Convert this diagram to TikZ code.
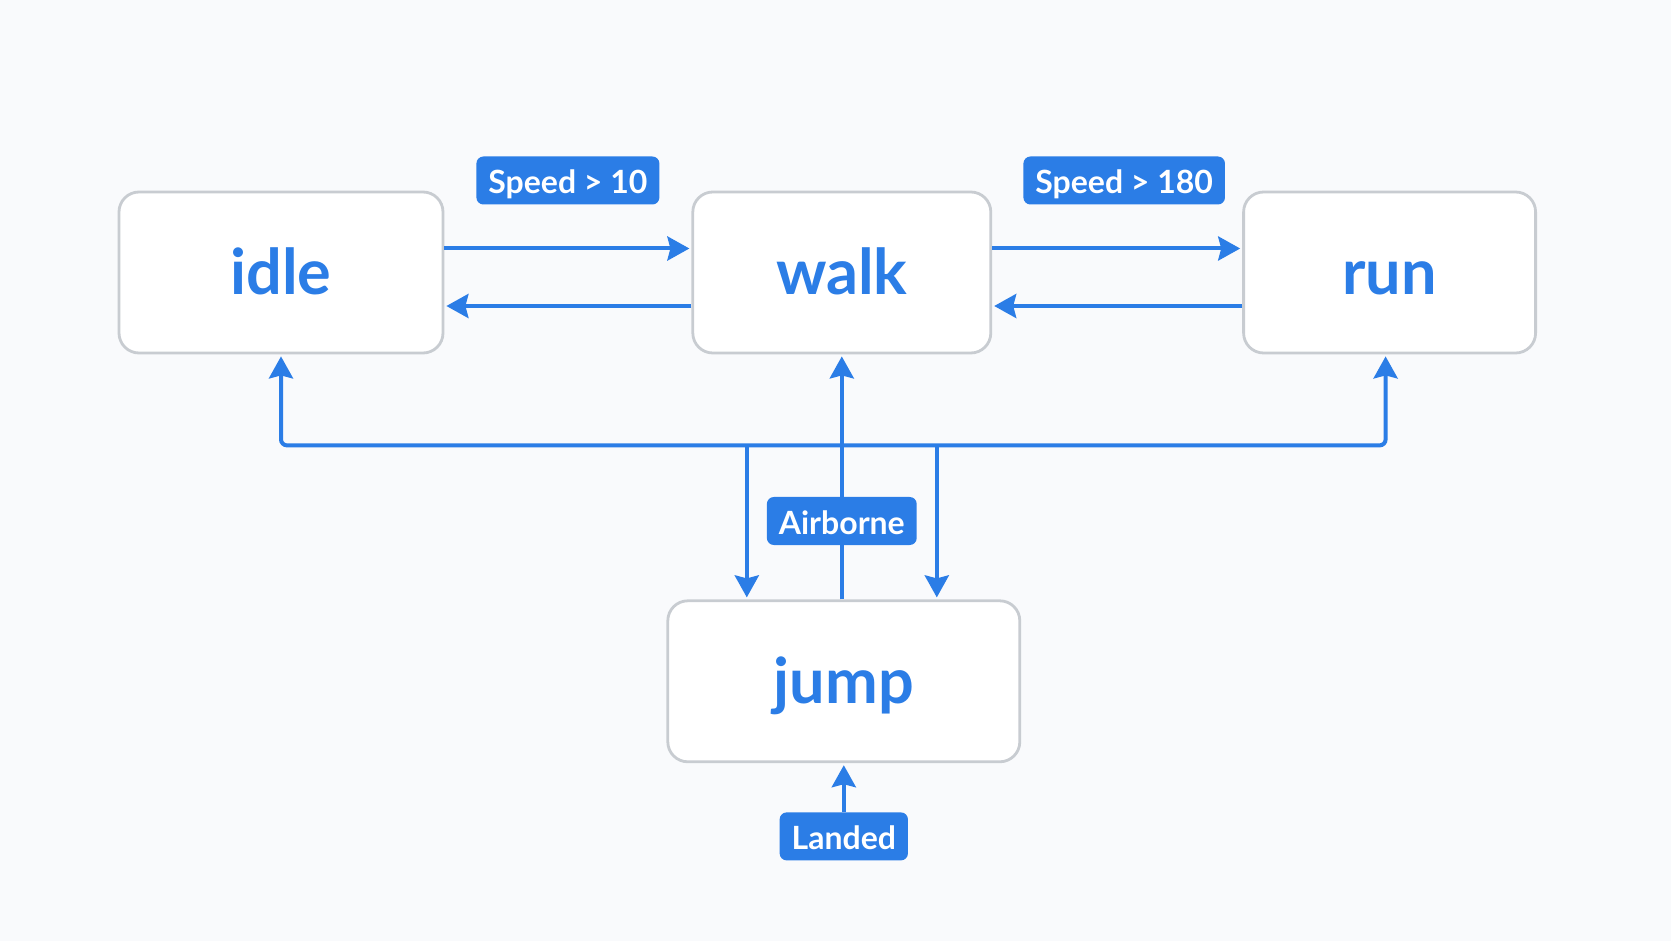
\documentclass[tikz,border=0pt]{standalone}
\usepackage{fontspec}
\setsansfont{Lato}
\usepackage{tikz}
\usetikzlibrary{arrows.meta,positioning,calc}
\definecolor{fsmblue}{HTML}{2B7DE6}
\definecolor{fsmgray}{HTML}{C8CCD1}
\definecolor{fsmbg}{HTML}{F9FAFC}
\tikzset{
  statebox/.style={draw=fsmgray, fill=white, line width=2.8pt, rounded corners=20pt, align=center, minimum height=161pt, text height=45pt, text depth=0pt, text=fsmblue, font=\sffamily\bfseries\fontsize{63}{70}\selectfont},
  tag/.style={fill=fsmblue, rounded corners=7pt, inner xsep=12pt, minimum height=48pt, text height=27pt, text depth=0pt, text=white, font=\sffamily\bfseries\fontsize{32}{36}\selectfont},
  arrow/.style={-{Stealth[length=22pt,width=24pt,inset=3pt]}, draw=fsmblue, line width=4pt, shorten >=2pt},
  bus/.style={arrow, rounded corners=6pt}
}

\begin{document}
\begin{tikzpicture}[x=1pt, y=1pt, node distance=250pt]
\fill[fsmbg] (0,0) rectangle (1671,-941);
\useasboundingbox (0,0) rectangle (1671,-941);
\node[statebox, minimum width=324pt] (idle) at (281,-272.5) {idle};
\node[statebox, minimum width=298pt, right=247pt of idle] (walk) {walk};
\node[statebox, minimum width=292pt, right=250pt of walk] (run) {run};
\node[statebox, minimum width=352pt, below=245pt of walk, xshift=2pt] (jump) {jump};
\node[tag, below=49pt of jump] (landed) {Landed};
\coordinate (hub) at ($(walk.south)+(0,-91)$);
% speed transitions
\draw[arrow] ([yshift=24pt]idle.east) -- ([yshift=24pt]walk.west) node[tag, midway, above=42pt] (slow) {Speed > 10};
\draw[arrow] ([yshift=-33.5pt]walk.west) -- ([yshift=-33.5pt]idle.east);
\draw[arrow] ([yshift=24pt]walk.east) -- ([yshift=24pt]run.west) node[tag, midway, above=42pt, xshift=7pt] (fast) {Speed > 180};
\draw[arrow] ([yshift=-33.5pt]run.west) -- ([yshift=-33.5pt]walk.east);
% jump transitions
\draw[arrow] (jump.north -| walk.south) -- (walk.south) node[tag, pos=0.32] (air) {Airborne};
\draw[bus] (hub) -| (idle.south);
\draw[bus] (hub) -| ([xshift=-4pt]run.south);
\draw[arrow] ([xshift=-95pt]hub) -- ([xshift=-95pt]jump.north -| hub);
\draw[arrow] ([xshift=95pt]hub) -- ([xshift=95pt]jump.north -| hub);
\draw[arrow] (landed) -- (jump);
\end{tikzpicture}
\end{document}
